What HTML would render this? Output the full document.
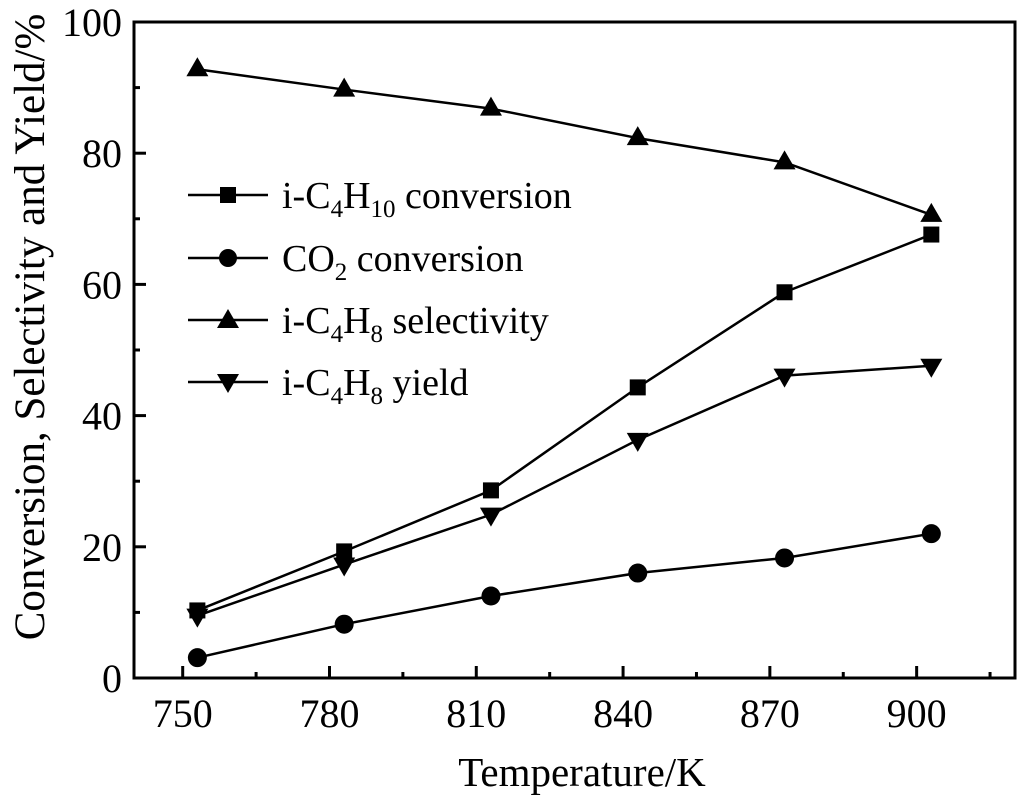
<!DOCTYPE html>
<html><head><meta charset="utf-8"><style>
body{margin:0;background:#fff}
svg{display:block;font-family:"Liberation Serif",serif}
</style></head><body>
<svg id="chart" width="1024" height="798" viewBox="0 0 1024 798" xmlns="http://www.w3.org/2000/svg">
<g id="axes"></g>
<g id="series"></g>
<g id="legend">
 <g>
  <line x1="188" y1="195" x2="268" y2="195" stroke="#000" stroke-width="2.5"/>
  <rect x="220" y="187" width="16" height="16" fill="#000"/>
  <text x="282" y="208" font-size="38">i-C<tspan font-size="25" dy="9">4</tspan><tspan dy="-9">H</tspan><tspan font-size="25" dy="9">10</tspan><tspan dy="-9"> conversion</tspan></text>
 </g>
 <g>
  <line x1="188" y1="258" x2="268" y2="258" stroke="#000" stroke-width="2.5"/>
  <circle cx="228" cy="258" r="9" fill="#000"/>
  <text x="282" y="271" font-size="38">CO<tspan font-size="25" dy="9">2</tspan><tspan dy="-9"> conversion</tspan></text>
 </g>
 <g>
  <line x1="188" y1="320" x2="268" y2="320" stroke="#000" stroke-width="2.5"/>
  <polygon points="228,309 239,328 217,328" fill="#000"/>
  <text x="282" y="333" font-size="38">i-C<tspan font-size="25" dy="9">4</tspan><tspan dy="-9">H</tspan><tspan font-size="25" dy="9">8</tspan><tspan dy="-9"> selectivity</tspan></text>
 </g>
 <g>
  <line x1="188" y1="382" x2="268" y2="382" stroke="#000" stroke-width="2.5"/>
  <polygon points="217,374 239,374 228,393" fill="#000"/>
  <text x="282" y="395" font-size="38">i-C<tspan font-size="25" dy="9">4</tspan><tspan dy="-9">H</tspan><tspan font-size="25" dy="9">8</tspan><tspan dy="-9"> yield</tspan></text>
 </g>
</g>
<text x="582" y="786" font-size="41" text-anchor="middle">Temperature/K</text>
<text transform="translate(44,327) rotate(-90)" font-size="43" text-anchor="middle">Conversion, Selectivity and Yield/%</text>
</svg>
<script>
const temps=[753,783,813,843,873,903];
const iC4H10Conv=[10.3,19.3,28.6,44.3,58.8,67.6];
const co2Conv=[3.1,8.2,12.5,16.0,18.3,22.0];
const iC4H8Sel=[92.8,89.7,86.8,82.3,78.6,70.6];
const iC4H8Yield=[9.5,17.3,24.9,36.3,46.1,47.6];
const xTicks=[750,780,810,840,870,900];
const yTicks=[0,20,40,60,80,100];
const NS="http://www.w3.org/2000/svg";
const L=134,R=1015,T=22,B=678;
const xs=v=>182.7+(v-750)*4.893;
const ys=v=>B-(v/100)*(B-T);
function mk(tag,attrs,parent){const e=document.createElementNS(NS,tag);for(const k in attrs)e.setAttribute(k,attrs[k]);parent.appendChild(e);return e;}
const axes=document.getElementById('axes');
const frame=mk('rect',{x:L,y:T,width:R-L,height:B-T,fill:'none',stroke:'#000','stroke-width':3},axes);


xTicks.forEach(t=>{
 const x=xs(t);
 const tk=mk('line',{x1:x,y1:B,x2:x,y2:B-12,stroke:'#000','stroke-width':3},axes);
 
 
 const mx=xs(t+15);
 if(mx<R){const m=mk('line',{x1:mx,y1:B,x2:mx,y2:B-6,stroke:'#000','stroke-width':3},axes);
 
 }
 const lb=mk('text',{x:x,y:B+49,'font-size':40,'text-anchor':'middle'},axes);lb.textContent=t;
 
 
});
yTicks.forEach(t=>{
 const y=ys(t);
 const tk=mk('line',{x1:L,y1:y,x2:L+12,y2:y,stroke:'#000','stroke-width':3},axes);
 
 
 if(t<100){const m=mk('line',{x1:L,y1:ys(t+10),x2:L+6,y2:ys(t+10),stroke:'#000','stroke-width':3},axes);
 
 }
 const lb=mk('text',{x:L-12,y:y+14,'font-size':40,'text-anchor':'end'},axes);lb.textContent=t;
 
 
});
const sg=document.getElementById('series');
function series(vals,name,marker){
 const g=mk('g',{},sg);
 
 
 const pl=mk('polyline',{points:vals.map((v,i)=>xs(temps[i])+','+ys(v)).join(' '),fill:'none',stroke:'#000','stroke-width':2.5},g);
 
 
 vals.forEach((v,i)=>{
  const x=xs(temps[i]),y=ys(v);let e;
  if(marker==='sq')e=mk('rect',{x:x-8,y:y-8,width:16,height:16,fill:'#000'},g);
  else if(marker==='ci')e=mk('circle',{cx:x,cy:y,r:9.5,fill:'#000'},g);
  else if(marker==='up')e=mk('polygon',{points:`${x},${y-12} ${x+11},${y+7} ${x-11},${y+7}`,fill:'#000'},g);
  else e=mk('polygon',{points:`${x-11},${y-7} ${x+11},${y-7} ${x},${y+12}`,fill:'#000'},g);
  
  
 });
}
series(iC4H8Sel,'i-c4h8-selectivity','up');
series(iC4H10Conv,'i-c4h10-conversion','sq');
series(iC4H8Yield,'i-c4h8-yield','dn');
series(co2Conv,'co2-conversion','ci');
</script>
</body></html>
